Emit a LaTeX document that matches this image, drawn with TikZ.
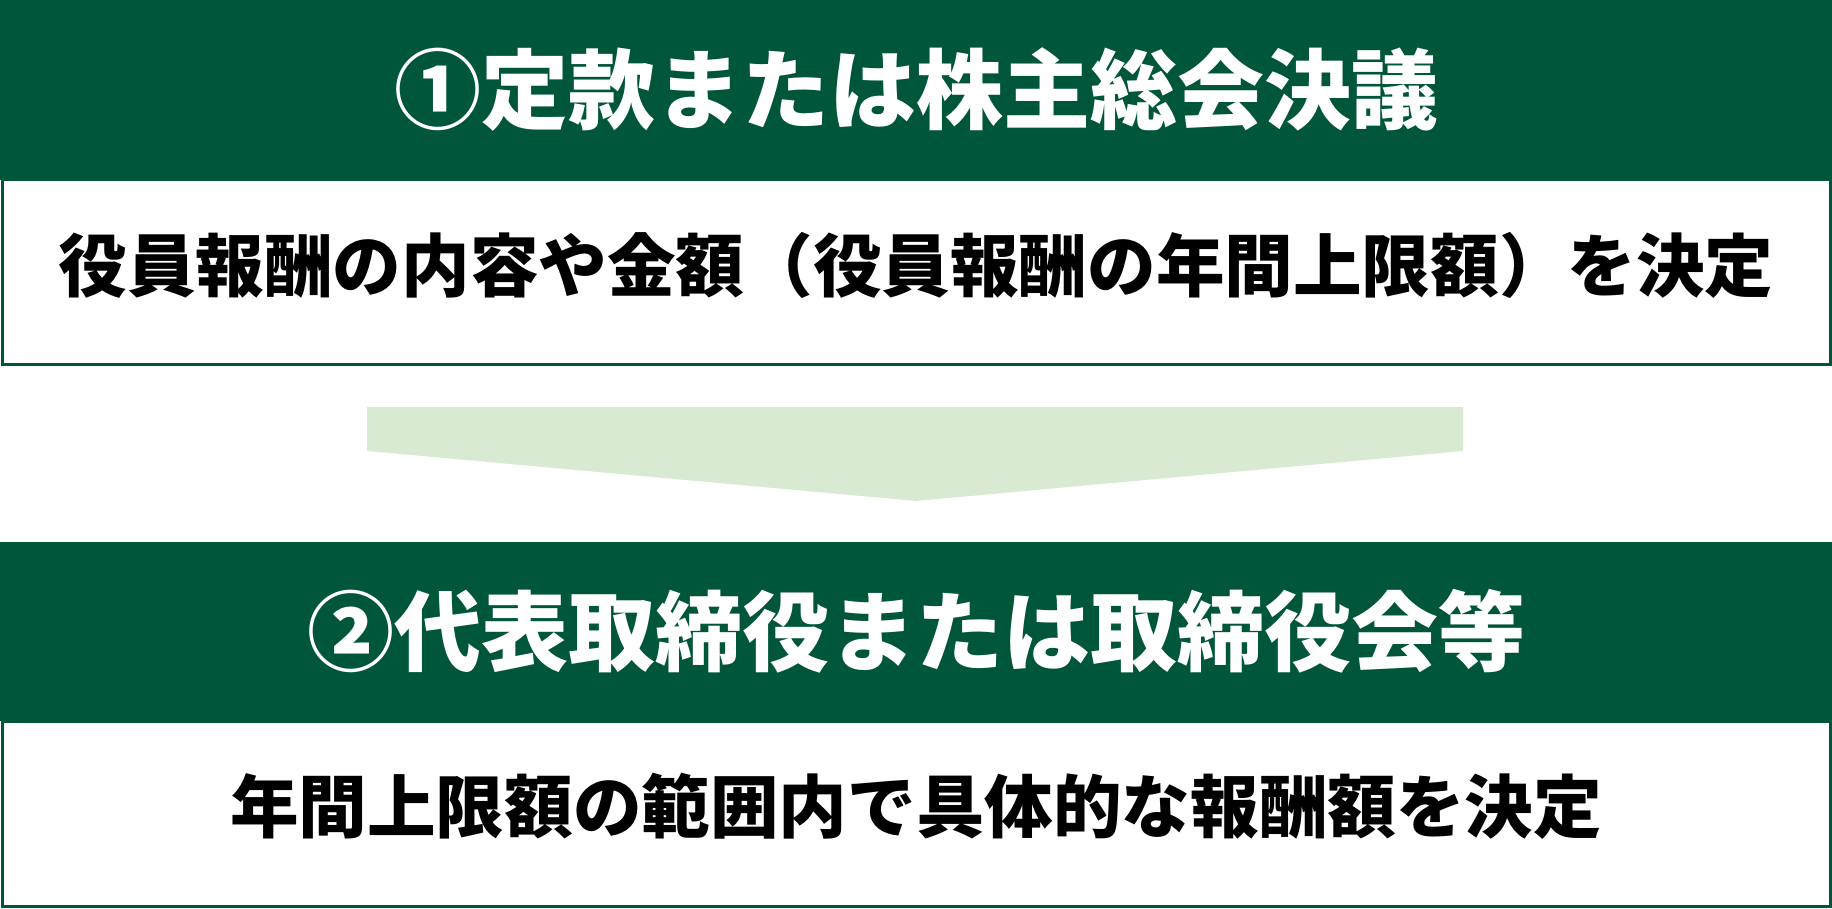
\documentclass[tikz,border=0pt]{standalone}
\usepackage{fontspec}
\newfontfamily\jpfont{Noto Sans CJK JP}
\usetikzlibrary{positioning}
\definecolor{darkgreen}{RGB}{0,86,59}
\definecolor{palegreen}{RGB}{217,234,211}

\begin{document}
\begin{tikzpicture}[x=0.5pt,y=-0.5pt,
  head/.style={rectangle,fill=darkgreen,text=white,inner sep=0,outer sep=0,minimum width=916pt,minimum height=90pt,font=\jpfont\bfseries\fontsize{43.5pt}{43.5pt}\selectfont},
  body/.style={rectangle,draw=darkgreen,line width=1.5pt,fill=white,inner sep=0,outer sep=0,minimum width=914pt,minimum height=92.5pt},
  bodytext/.style={inner sep=0,font=\jpfont\bfseries\fontsize{34.3pt}{34.3pt}\selectfont}]
\useasboundingbox (0,0) rectangle (1832,909);
\node[head] (council) at (916,90) {①定款または株主総会決議};
\node[body,below=0pt of council] (councilbox) {};
\node[bodytext] (councilnote) at ([yshift=3.5pt]councilbox.center) {役員報酬の内容や金額（役員報酬の年間上限額）を決定};
% arrow between the two steps
\fill[palegreen] (367,407) -- (1463,407) -- (1463,451) -- (916,501) -- (367,451) -- cycle;
\node[head,minimum height=89.5pt] (board) at (916,631.5) {②代表取締役または取締役会等};
\node[body,below=0pt of board] (boardbox) {};
\node[bodytext] (boardnote) at ([yshift=3.75pt]boardbox.center) {年間上限額の範囲内で具体的な報酬額を決定};
\end{tikzpicture}
\end{document}
